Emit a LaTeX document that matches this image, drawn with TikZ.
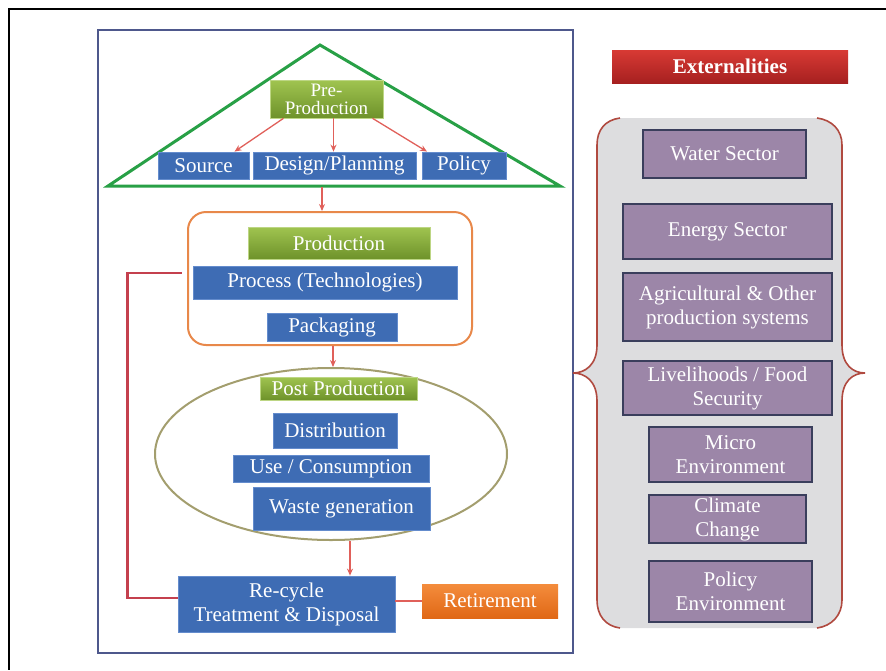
\documentclass[tikz,border=0pt]{standalone}
\usepackage{fontspec}
\setmainfont{Liberation Serif}
\usetikzlibrary{shapes.geometric,calc,arrows.meta}
\definecolor{bluebox}{RGB}{62,108,180}
\definecolor{blueedge}{RGB}{100,140,205}
\definecolor{gtop}{RGB}{160,196,80}
\definecolor{gbot}{RGB}{110,146,42}
\definecolor{purp}{RGB}{156,134,168}
\definecolor{purpedge}{RGB}{58,62,92}
\definecolor{panel}{RGB}{221,221,223}
\definecolor{bracecol}{RGB}{176,74,64}
\definecolor{framecol}{RGB}{78,88,140}
\definecolor{tricol}{RGB}{40,160,70}
\definecolor{prodcol}{RGB}{232,136,74}
\definecolor{ellcol}{RGB}{163,158,110}
\definecolor{arrcol}{RGB}{224,96,90}
\definecolor{fbcol}{RGB}{196,64,78}
\definecolor{otop}{RGB}{244,140,60}
\definecolor{obot}{RGB}{224,104,22}
\definecolor{rtop}{RGB}{216,58,52}
\definecolor{rbot}{RGB}{166,32,32}
\tikzset{
  txt/.style={text=white, font=\fontsize{21}{24}\selectfont, align=center, inner sep=0pt},
  bluebx/.style={txt, fill=bluebox, draw=blueedge, line width=0.8pt},
  greenbx/.style={txt, top color=gtop, bottom color=gbot, draw=gtop!70!white, line width=0.6pt},
  purpbx/.style={txt, fill=purp, draw=purpedge, line width=1.8pt},
  arr/.style={draw=arrcol, line width=1.3pt, -{Stealth[length=7pt,width=6pt]}},
}
\begin{document}
\begin{tikzpicture}[x=1pt,y=-1pt]
\useasboundingbox (0,0) rectangle (886,670);
% outer black frame (top and left visible)
\draw[black, line width=2pt] (886,9) -- (9,9) -- (9,670);
% blue frame
\draw[framecol, line width=2.2pt] (98,30) rectangle (573,653);
% triangle
\draw[tricol, line width=3pt, line join=miter] (320,45) -- (108,186) -- (560,186) -- cycle;
\coordinate (tribase) at (322,187);
% pre-production
\node[greenbx, minimum width=113pt, minimum height=38pt, font=\fontsize{19}{18}\selectfont] (pre) at (326.5,99) {Pre-\\Production};
\node[bluebx, minimum width=91pt, minimum height=27pt] (source) at (203.5,165.5) {Source};
\node[bluebx, minimum width=163pt, minimum height=27pt] (design) at (334.5,165.5) {Design/Planning};
\node[bluebx, minimum width=84pt, minimum height=27pt] (policy) at (464,165.5) {Policy};
\draw[arr] ($(pre.south)+(-43,0)$) -- ($(source.north)+(31,0)$);
\draw[arr] ($(pre.south)+(7,0)$) -- ($(design.north)+(-1,0)$);
\draw[arr] ($(pre.south)+(46,0)$) -- ($(policy.north)+(-37,0)$);
% production
\node[draw=prodcol, line width=2pt, rounded corners=18pt, minimum width=284pt, minimum height=133pt] (prodbox) at (330,278.5) {};
\draw[arr] (tribase) -- (tribase |- prodbox.north);
\node[greenbx, minimum width=182pt, minimum height=32pt] (prodlabel) at (339,243) {Production};
\node[bluebx, minimum width=264pt, minimum height=33pt] (process) at (325,282.5) {Process (Technologies)};
\node[bluebx, minimum width=130pt, minimum height=28pt] (packaging) at (332,327) {Packaging};
% post production
\node[ellipse, draw=ellcol, line width=2pt, minimum width=352pt, minimum height=172pt, inner sep=0pt] (ell) at (331,454) {};
\draw[arr] ($(prodbox.south)+(3,0)$) -- ($(ell.north)+(2,0)$);
\node[greenbx, minimum width=157pt, minimum height=23pt] (postlabel) at (338.5,388.5) {Post Production};
\node[bluebx, minimum width=124pt, minimum height=35pt] (distribution) at (335,430.5) {Distribution};
\node[bluebx, minimum width=196pt, minimum height=27pt] (use) at (331,468.5) {Use / Consumption};
\node[bluebx, minimum width=177pt, minimum height=43pt] (waste) at (341.5,508.5) {Waste generation};
% recycle
\node[bluebx, minimum width=217pt, minimum height=56pt] (recycle) at (286.5,604) {Re-cycle\\Treatment \& Disposal};
\node[txt, top color=otop, bottom color=obot, minimum width=136pt, minimum height=34pt] (retire) at (490,601) {Retirement};
\coordinate (ea) at (350,541);
\draw[arr] (ea) -- (ea |- recycle.north);
\draw[draw=arrcol, line width=1.2pt] (retire.west -| recycle.east) -- (retire.west);
\coordinate (fbend) at (182,273);
\draw[fbcol, line width=2.5pt] ($(recycle.west)+(0,-6)$) -- ++(-50,0) |- (fbend);
% externalities
\node[txt, font=\bfseries\fontsize{21}{24}\selectfont, top color=rtop, bottom color=rbot, minimum width=236pt, minimum height=33pt] (ext) at (730,66.5) {Externalities};
% panel with braces
\fill[panel] (620,118) .. controls (605,120) and (597,130) .. (597,145) -- (597,345)
  .. controls (597,365) and (585,373) .. (573,373) .. controls (585,373) and (597,381) .. (597,401)
  -- (597,600) .. controls (597,615) and (605,626) .. (620,628)
  -- (817,628) .. controls (832,626) and (842,615) .. (842,600) -- (842,401)
  .. controls (842,381) and (853,373) .. (865,373) .. controls (853,373) and (842,365) .. (842,345)
  -- (842,145) .. controls (842,130) and (832,120) .. (817,118) -- cycle;
\draw[bracecol, line width=1.6pt] (620,118) .. controls (605,120) and (597,130) .. (597,145) -- (597,345)
  .. controls (597,365) and (585,373) .. (573,373) .. controls (585,373) and (597,381) .. (597,401)
  -- (597,600) .. controls (597,615) and (605,626) .. (620,628);
\draw[bracecol, line width=1.6pt] (817,628) .. controls (832,626) and (842,615) .. (842,600) -- (842,401)
  .. controls (842,381) and (853,373) .. (865,373) .. controls (853,373) and (842,365) .. (842,345)
  -- (842,145) .. controls (842,130) and (832,120) .. (817,118);
\node[purpbx, minimum width=163pt, minimum height=48pt] (water) at (724.5,154) {Water Sector};
\node[purpbx, minimum width=209pt, minimum height=55pt] (energy) at (727.5,231.5) {Energy Sector};
\node[purpbx, minimum width=209pt, minimum height=68pt] (agri) at (727.5,307) {Agricultural \& Other\\production systems};
\node[purpbx, minimum width=209pt, minimum height=54pt] (liveli) at (727.5,388) {Livelihoods / Food\\Security};
\node[purpbx, minimum width=163pt, minimum height=55pt] (micro) at (730.5,454.5) {Micro\\Environment};
\node[purpbx, minimum width=157pt, minimum height=48pt] (climate) at (727.5,519) {Climate\\Change};
\node[purpbx, minimum width=163pt, minimum height=61pt] (policyenv) at (730.5,591.5) {Policy\\Environment};
\end{tikzpicture}
\end{document}
